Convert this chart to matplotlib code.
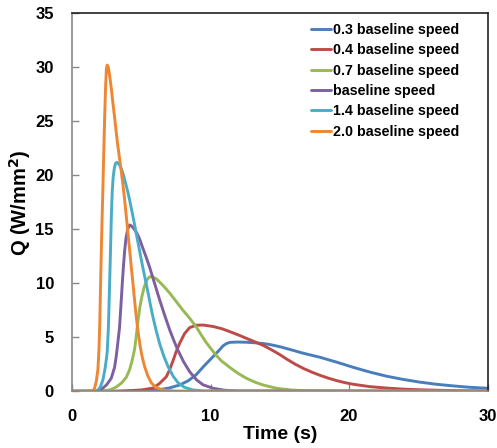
import matplotlib
matplotlib.use("Agg")
import matplotlib.pyplot as plt

# heat flux pulses, time in s, Q in W/mm^2
t_03 = [0, 4.0, 5.1, 6.3, 7.0, 7.77, 8.4, 8.98, 9.5, 10.18, 10.66, 10.9, 11.15, 11.4, 12.0, 12.6,
        13.2, 13.8, 14.28, 15.0, 15.8, 16.7, 17.9, 19.1, 20.3, 21.5, 22.7, 23.9, 25.1, 26.3, 27.5,
        28.7, 30]
q_03 = [0, 0, 0.05, 0.15, 0.3, 0.58, 0.98, 1.55, 2.3, 3.2, 3.85, 4.2, 4.42, 4.53, 4.56, 4.54,
        4.49, 4.42, 4.33, 4.13, 3.85, 3.52, 3.15, 2.7, 2.22, 1.78, 1.4, 1.1, 0.85, 0.65, 0.5,
        0.37, 0.28]

t_04 = [0, 3.0, 4.0, 5.0, 5.84, 6.3, 6.81, 7.05, 7.3, 7.53, 7.77, 8.13, 8.5, 8.98, 9.5, 10.18,
        10.8, 11.4, 12.0, 12.6, 13.2, 13.8, 14.28, 15.0, 15.5, 16.1, 16.7, 17.3, 17.9, 18.5, 19.1,
        19.7, 20.3, 21.5, 22.7, 23.9, 25.1, 26.3, 28.0, 30]
q_04 = [0, 0, 0.05, 0.12, 0.3, 0.7, 1.35, 2.0, 2.85, 3.7, 4.44, 5.35, 5.9, 6.12, 6.13, 6.0,
        5.8, 5.52, 5.22, 4.9, 4.58, 4.25, 3.93, 3.4, 2.98, 2.52, 2.12, 1.78, 1.48, 1.22, 0.99,
        0.8, 0.65, 0.43, 0.3, 0.2, 0.14, 0.1, 0.05, 0.02]

t_07 = [0, 2.3, 2.8, 3.2, 3.6, 3.92, 4.16, 4.35, 4.52, 4.64, 4.76, 4.9, 5.05, 5.2, 5.4, 5.6,
        5.8, 6.1, 6.57, 7.05, 7.53, 8.01, 8.5, 8.98, 9.34, 9.7, 10.18, 10.43, 10.8, 11.4, 12.0,
        12.6, 13.2, 13.8, 14.76, 15.8, 17.0, 30]
q_07 = [0, 0.05, 0.15, 0.4, 0.8, 1.3, 2.0, 2.9, 3.9, 5.1, 6.5, 7.8, 8.8, 9.6, 10.3, 10.6,
        10.6, 10.4, 9.8, 9.1, 8.3, 7.5, 6.75, 5.95, 5.2, 4.5, 3.7, 3.3, 2.8, 2.2, 1.65,
        1.2, 0.85, 0.58, 0.28, 0.12, 0.04, 0]

t_10 = [0, 1.9, 2.23, 2.5, 2.83, 3.07, 3.19, 3.3, 3.43, 3.53, 3.63, 3.72, 3.8, 3.9, 4.02, 4.16,
        4.3, 4.5, 4.7, 4.88, 5.1, 5.36, 5.6, 5.96, 6.33, 6.7, 7.05, 7.35, 7.65, 8.05, 8.5, 9.0,
        9.46, 10.18, 11.0, 12.0, 30]
q_10 = [0, 0, 0.3, 0.6, 1.2, 2.2, 3.2, 4.4, 5.9, 7.9, 10.0, 11.7, 13.0, 14.2, 15.0, 15.4,
        15.3, 15.0, 14.6, 14.1, 13.3, 12.4, 11.5, 10.0, 8.45, 7.0, 5.7, 4.7, 3.8, 2.75, 1.8, 1.05,
        0.6, 0.28, 0.1, 0.03, 0]

t_14 = [0, 1.7, 1.9, 2.05, 2.23, 2.4, 2.54, 2.63, 2.71, 2.78, 2.84, 2.9, 2.97, 3.05, 3.14, 3.24,
        3.34, 3.45, 3.56, 3.67, 3.8, 3.92, 4.04, 4.16, 4.4, 4.64, 4.88, 5.12, 5.3, 5.48, 5.66,
        5.84, 6.08, 6.33, 6.63, 6.93, 7.3, 7.65, 8.1, 8.7, 9.5, 30]
q_14 = [0, 0, 0.15, 0.4, 1.05, 2.2, 3.6, 6.0, 9.7, 13.1, 16.2, 18.4, 19.8, 20.6, 21.1, 21.2,
        21.1, 20.9, 20.6, 20.2, 19.6, 19.0, 18.4, 17.7, 16.2, 14.6, 13.0, 11.4, 10.3, 9.2, 8.0,
        6.9, 5.6, 4.4, 3.25, 2.3, 1.4, 0.8, 0.38, 0.13, 0.03, 0]

t_20 = [0, 1.5, 1.63, 1.75, 1.87, 1.95, 2.01, 2.08, 2.16, 2.23, 2.3, 2.36, 2.42, 2.48, 2.54, 2.62,
        2.72, 2.84, 2.96, 3.08, 3.2, 3.31, 3.43, 3.55, 3.67, 3.8, 3.92, 4.04, 4.16, 4.28, 4.4,
        4.52, 4.64, 4.78, 4.93, 5.08, 5.24, 5.48, 5.73, 6.0, 6.4, 6.9, 7.5, 30]
q_20 = [0, 0, 0.3, 0.9, 2.0, 4.0, 6.6, 11.0, 15.4, 18.8, 22.5, 25.5, 28.0, 29.8, 30.2, 30.0,
        29.2, 28.0, 26.6, 25.3, 23.9, 22.7, 21.6, 20.4, 19.2, 17.7, 16.2, 14.6, 13.1, 11.5, 10.0,
        8.4, 6.9, 5.4, 4.1, 3.1, 2.3, 1.4, 0.78, 0.42, 0.18, 0.07, 0.02, 0]

labels = ["0.3 baseline speed", "0.4 baseline speed", "0.7 baseline speed",
          "baseline speed", "1.4 baseline speed", "2.0 baseline speed"]
colors = ["#4A7EBB", "#BE4B48", "#98B954", "#7D60A0", "#4AACC6", "#EE8733"]

series = [(t_03, q_03), (t_04, q_04), (t_07, q_07), (t_10, q_10), (t_14, q_14), (t_20, q_20)]

plt.rcParams["font.family"] = ["Liberation Sans", "DejaVu Sans"]
plt.rcParams["font.weight"] = "bold"
plt.rcParams["mathtext.default"] = "bf"

fig = plt.figure(figsize=(4.97, 4.48), dpi=100)
ax = fig.add_axes([0.1449, 0.1266, 0.836, 0.8438])

for (t, q), lab, c in zip(series, labels, colors):
    ax.plot(t, q, color=c, lw=2.1, label=lab, solid_joinstyle="round", solid_capstyle="round")

ax.set_xlim(0, 30)
ax.set_ylim(0, 35)
ax.set_xticks([0, 10, 20, 30])
ax.set_yticks(range(0, 36, 5))
ax.tick_params(direction="in", length=5, width=1, color="#888888", labelsize=12)
ax.tick_params(axis="x", pad=13)
ax.tick_params(axis="y", pad=13)
for lbl in ax.get_xticklabels() + ax.get_yticklabels():
    lbl.set_fontweight("bold")

ax.spines["left"].set_color("#888888")
ax.spines["bottom"].set_color("#888888")
ax.spines["top"].set_color("#222222")
ax.spines["right"].set_color("#222222")
for s in ax.spines.values():
    s.set_linewidth(1.2)

ax.set_xlabel("Time (s)", fontsize=14, fontweight="bold", labelpad=1)
ax.set_ylabel("Q (W/mm$^{2}$)", fontsize=14.5, fontweight="bold", labelpad=2)

leg = ax.legend(loc="upper left", bbox_to_anchor=(0.576, 0.974), frameon=False, fontsize=10.3,
                handlelength=1.4, handletextpad=0.1, labelspacing=0.44, borderpad=0,
                borderaxespad=0)
for txt in leg.get_texts():
    txt.set_fontweight("bold")

fig.savefig("out.png", dpi=100)
